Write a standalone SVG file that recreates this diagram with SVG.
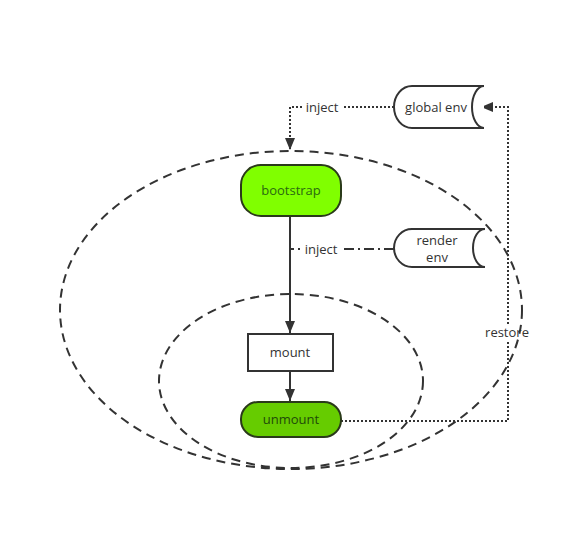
<svg xmlns="http://www.w3.org/2000/svg" width="582" height="534" viewBox="0 0 582 534">
<style>
text{font-family:"Open Sans","Noto Sans","Liberation Sans",sans-serif;font-size:13px;fill:#333;text-anchor:middle}
.grp{fill:none;stroke:#333;stroke-width:2;stroke-dasharray:9 6}
.dot{fill:none;stroke:#333;stroke-width:2;stroke-dasharray:2 2}
.solid{fill:none;stroke:#333;stroke-width:2}
.dashdot{fill:none;stroke:#333;stroke-width:2;stroke-dasharray:10 4 2 4}
.cyl{fill:#fff;stroke:#333;stroke-width:2}
</style>
<defs>
<marker id="arr" viewBox="0 0 12 10" refX="12" refY="5" markerWidth="12" markerHeight="10" markerUnits="userSpaceOnUse" orient="auto">
<path d="M0,0 L12,5 L0,10 Z" fill="#333"/>
</marker>
</defs>
<rect width="582" height="534" fill="#fff"/>
<g id="connectors">
<path class="solid" d="M290,217 V333" marker-end="url(#arr)"/>
<path class="solid" d="M290,371 V401" marker-end="url(#arr)"/>
<path class="dot" d="M394,107 H290 V150" marker-end="url(#arr)"/>
<path class="dot" d="M341,421 H508 V107 H481" marker-end="url(#arr)"/>
<path class="dashdot" d="M394,249 H291"/>
<rect x="300" y="241" width="42" height="16" fill="#fff"/>
<text x="321" y="254">inject</text>
<rect x="302" y="99" width="40" height="16" fill="#fff"/>
<text x="322" y="112">inject</text>
<rect x="499" y="325" width="18" height="16" fill="#fff"/>
<text x="507" y="337">restore</text>
</g>
<g id="groups">
<ellipse class="grp" cx="291" cy="310" rx="231" ry="159"/>
<ellipse class="grp" cx="291" cy="381" rx="132" ry="87"/>
</g>
<g id="global-env">
<path class="cyl" d="M484,86 H412 A18,21 0 0 0 412,128 H484"/>
<path class="solid" d="M484,86 A12,21 0 0 0 484,128"/>
<text x="436" y="112">global env</text>
</g>
<g id="render-env">
<path class="cyl" d="M485,229 H412 A18,19 0 0 0 412,267 H485"/>
<path class="solid" d="M485,229 A12,19 0 0 0 485,267"/>
<text x="437" y="245">render</text>
<text x="437" y="262">env</text>
</g>
<g id="bootstrap">
<rect x="241" y="165" width="100" height="51" rx="20" fill="#80ff00" stroke="#2a3a1a" stroke-width="2"/>
<text x="291" y="195" style="fill:#2a6a10">bootstrap</text>
</g>
<g id="mount">
<rect x="248" y="334" width="85" height="37" fill="#fff" stroke="#333" stroke-width="2"/>
<text x="290" y="357">mount</text>
</g>
<g id="unmount">
<rect x="241" y="402" width="100" height="35" rx="17" fill="#66cc00" stroke="#2a3a1a" stroke-width="2"/>
<text x="291" y="424" style="fill:#1f4a0a">unmount</text>
</g>
</svg>
